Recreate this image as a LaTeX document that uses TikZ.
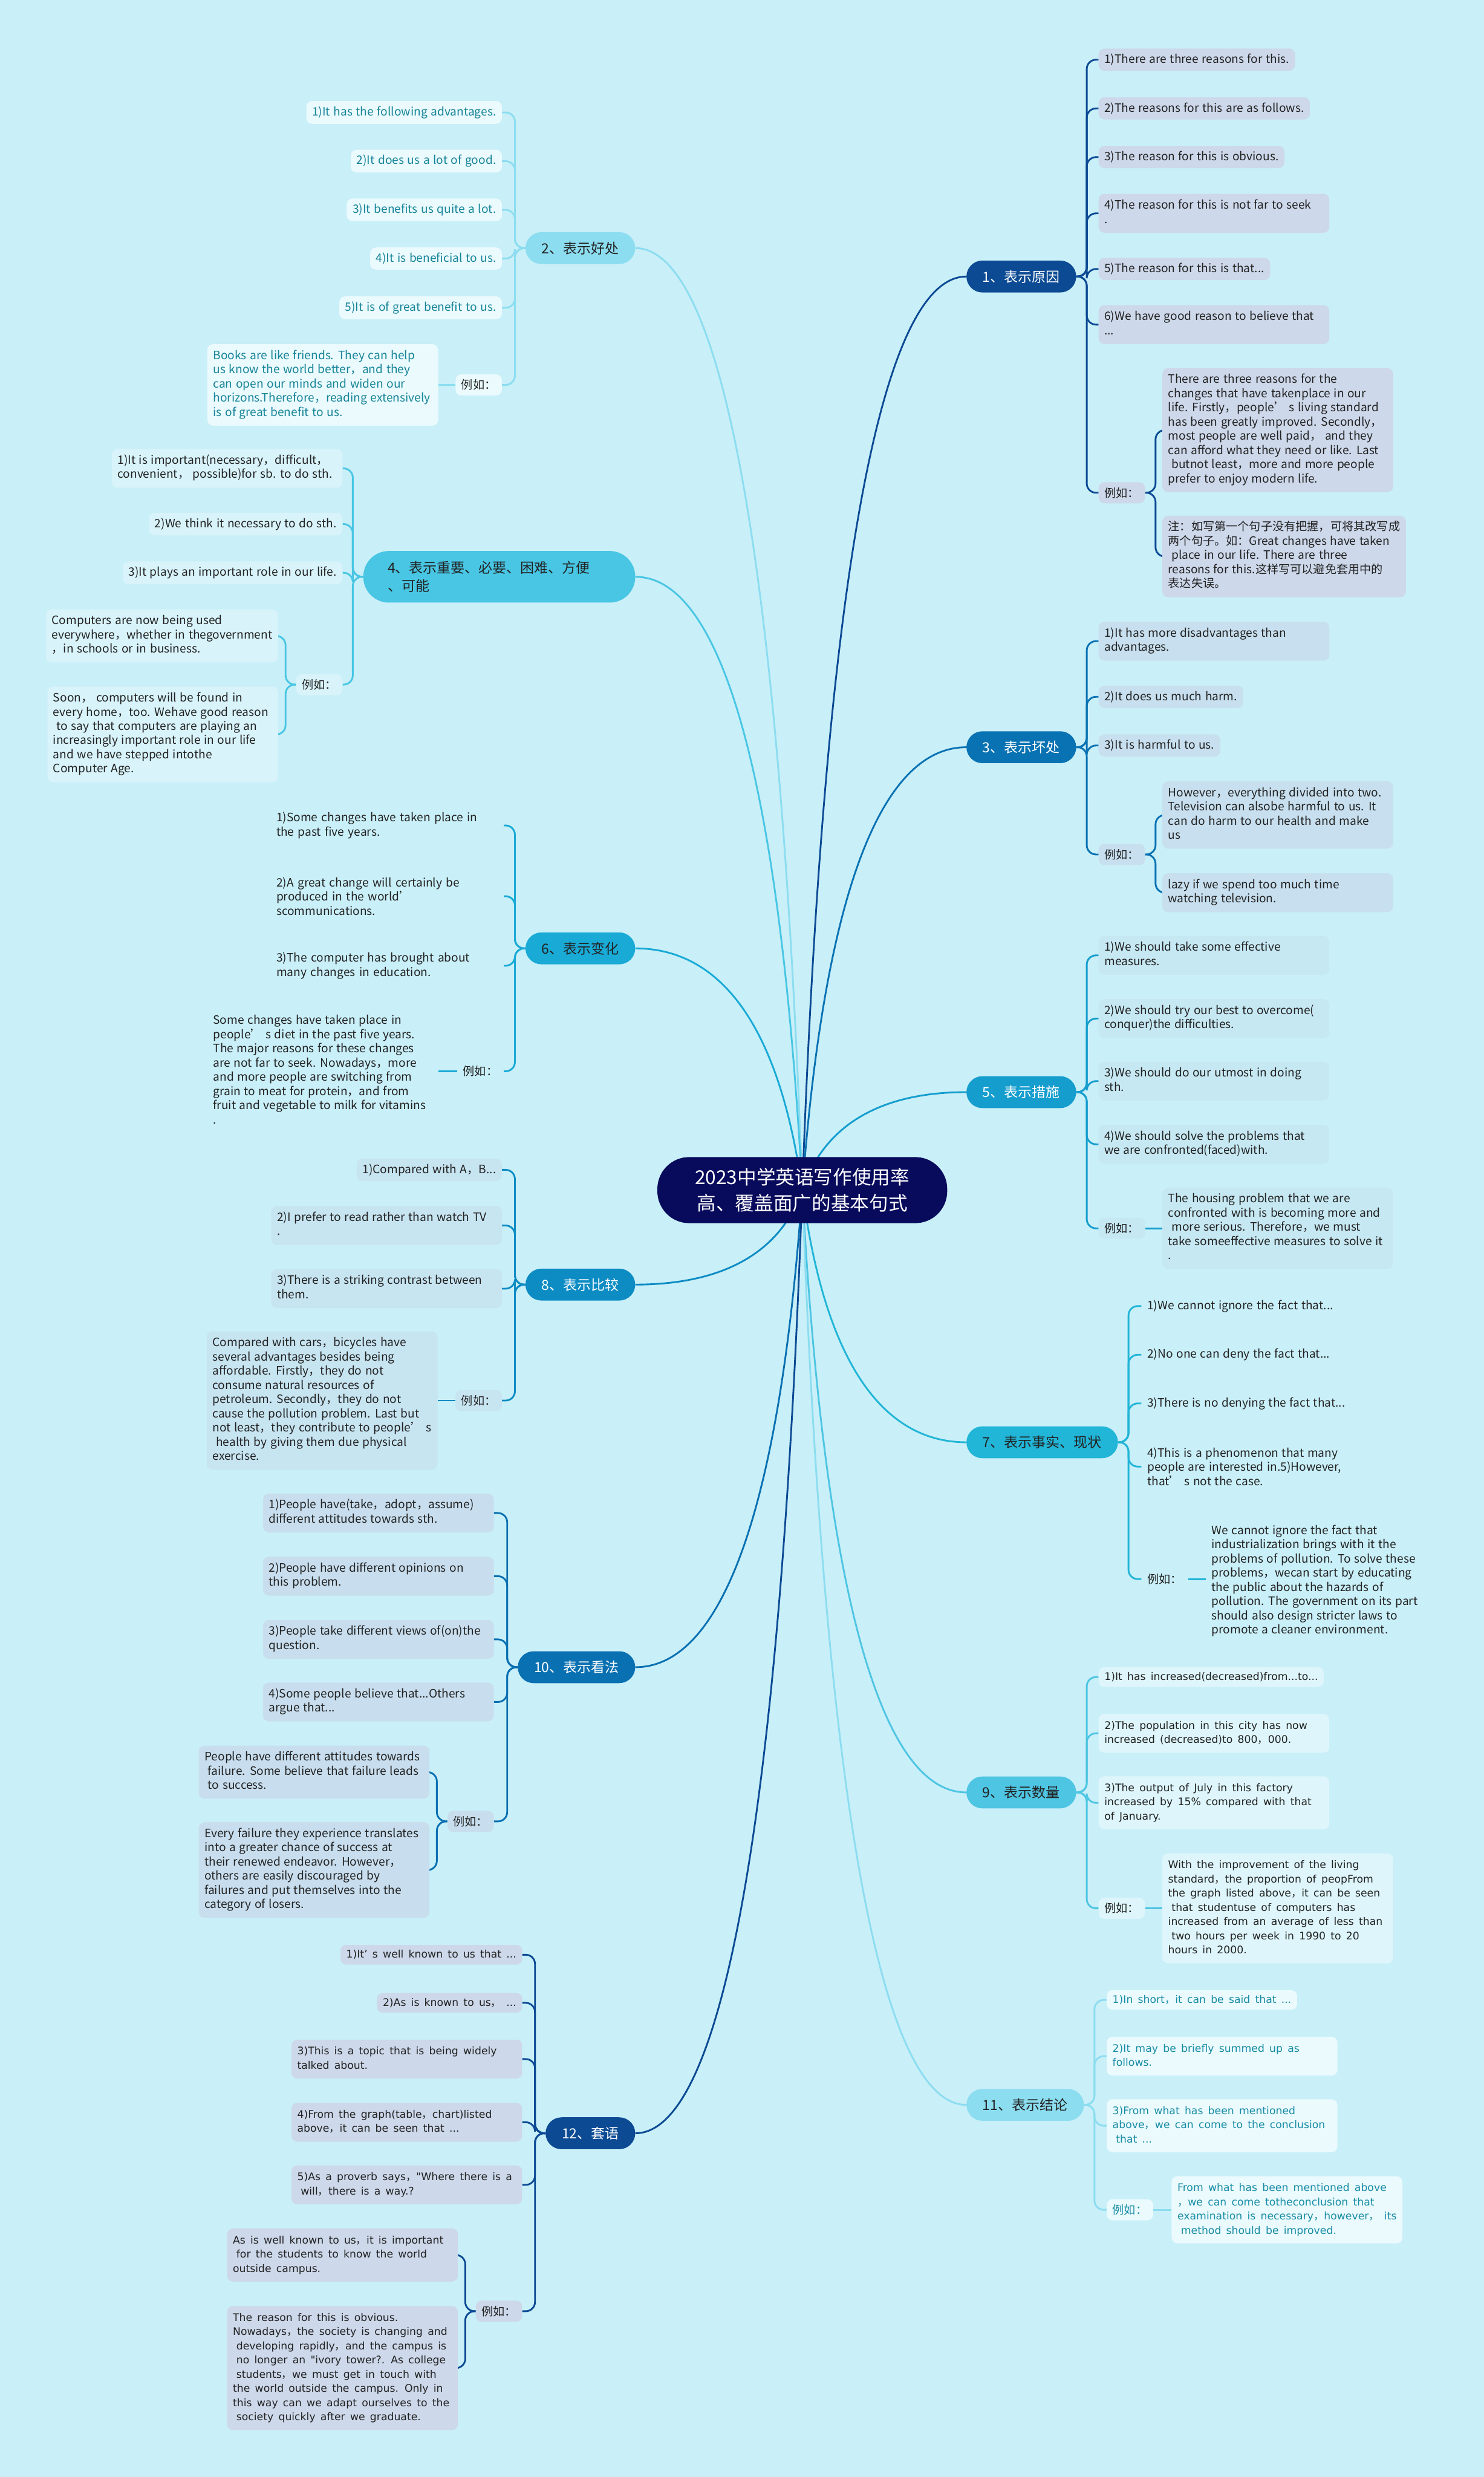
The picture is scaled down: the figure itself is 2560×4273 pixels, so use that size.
\documentclass[tikz,border=0pt]{standalone}
\usepackage{fontspec}
\setmainfont{Noto Sans CJK SC}[WordSpace=1.3]
\newfontfamily\dejavu{DejaVu Sans}[WordSpace=1.5]
\newfontfamily\cjkf{Noto Sans CJK SC}
\usetikzlibrary{calc}
\pgfdeclarelayer{back}
\pgfdeclarelayer{lines}
\pgfsetlayers{back,lines,main}
\definecolor{bgc}{RGB}{201,239,248}
\definecolor{txt}{RGB}{34,34,34}
\definecolor{rootc}{RGB}{8,10,92}
\definecolor{c1}{RGB}{12,74,148}\definecolor{f1}{RGB}{205,216,234}
\definecolor{c2}{RGB}{140,221,240}\definecolor{f2}{RGB}{234,250,253}\definecolor{t2}{RGB}{22,132,152}
\definecolor{c3}{RGB}{9,114,179}\definecolor{f3}{RGB}{199,223,238}
\definecolor{c4}{RGB}{72,198,228}\definecolor{f4}{RGB}{216,243,250}
\definecolor{c5}{RGB}{21,157,206}\definecolor{f5}{RGB}{198,232,243}
\definecolor{c6}{RGB}{25,170,214}
\definecolor{c7}{RGB}{33,181,215}
\definecolor{c8}{RGB}{13,140,196}\definecolor{f8}{RGB}{199,228,241}
\definecolor{c9}{RGB}{78,197,227}\definecolor{f9}{RGB}{222,246,251}
\definecolor{c10}{RGB}{9,112,178}\definecolor{f10}{RGB}{200,222,238}
\definecolor{c11}{RGB}{140,221,240}\definecolor{f11}{RGB}{234,250,253}\definecolor{t11}{RGB}{24,140,165}
\definecolor{c12}{RGB}{12,74,148}\definecolor{f12}{RGB}{205,216,234}
\newcommand\myind{\hspace*{6pt}}
\newcommand\cm{{\cjkf ，}}
\newsavebox\fwbox
\newcommand\fw[1]{\sbox\fwbox{\begin{tabular}{@{}l@{}}#1\end{tabular}}\ifdim\wd\fwbox<378pt\makebox[378pt][l]{\usebox\fwbox}\else\usebox\fwbox\fi}
\newcommand\myroot[2]{\draw[line width=3pt,#1] let \p1=(root.center), \p2=(#2) in (\p1) .. controls ({\x1+0.15*(\x2-\x1)},{\y1+0.75*(\y2-\y1)}) and ({\x1+0.55*(\x2-\x1)},{\y2}) .. (\p2);}
\newcommand\mylinkR[3]{\draw[link,#1] (#2) -- ++(18,0) |- (#3);}
\newcommand\mylinkL[3]{\draw[link,#1] (#2) -- ++(-18,0) |- (#3);}
\newcommand\mystraight[3]{\draw[link,#1] (#2) -- (#2 -| #3);}
\tikzset{
  base/.style={font=\fontsize{20pt}{24.5pt}\selectfont, align=left, inner xsep=10pt, inner ysep=9pt, rounded corners=10pt, text=txt},
  wd/.style={font=\dejavu\fontsize{18pt}{24.5pt}\selectfont},
  R/.style={base, anchor=west},
  L/.style={base, anchor=east},
  br/.style={font=\fontsize{24pt}{32pt}\selectfont, inner xsep=28pt, inner ysep=0pt, minimum height=55pt, rounded corners=27.5pt},
  link/.style={line width=3pt, rounded corners=16pt},
}
\begin{document}
\begin{tikzpicture}[x=1pt,y=-1pt]
\begin{pgfonlayer}{back}
\fill[bgc] (0,0) rectangle (2560,4273);
\end{pgfonlayer}
\useasboundingbox (0,0) rectangle (2560,4273);

% root
\node[fill=rootc, text=white, align=center, rounded corners=55pt, minimum width=500pt, minimum height=114pt, font=\fontsize{33pt}{44pt}\selectfont] (root) at (1384,2053) {2023中学英语写作使用率\\高、覆盖面广的基本句式};

% ---------- Branch 1
\node[br, fill=c1, text=white, anchor=west] (b1) at (1667,477) {1、表示原因};
\node[R, fill=f1] (b1a) at (1895,103) {1)There are three reasons for this.};
\node[R, fill=f1] (b1b) at (1895,187) {2)The reasons for this are as follows.};
\node[R, fill=f1] (b1c) at (1895,271) {3)The reason for this is obvious.};
\node[R, fill=f1] (b1d) at (1895,368) {\fw{4)The reason for this is not far to seek\\.}};
\node[R, fill=f1] (b1e) at (1895,464) {5)The reason for this is that...};
\node[R, fill=f1] (b1f) at (1895,560) {\fw{6)We have good reason to believe that\\...}};
\node[R, fill=f1] (b1g) at (1895,850) {例如：};
\node[R, fill=f1] (b1x) at (2005,742) {\fw{There are three reasons for the\\changes that have takenplace in our\\life. Firstly，people’ s living standard\\has been greatly improved. Secondly，\\most people are well paid， and they\\can afford what they need or like. Last\\\myind butnot least，more and more people\\prefer to enjoy modern life.}};
\node[R, fill=f1] (b1y) at (2005,960) {\fw{注：如写第一个句子没有把握，可将其改写成\\两个句子。如：Great changes have taken\\\myind place in our life. There are three\\reasons for this.这样写可以避免套用中的\\表达失误。}};

% ---------- Branch 3
\node[br, fill=c3, text=white, anchor=west] (b3) at (1667,1289) {3、表示坏处};
\node[R, fill=f3] (b3a) at (1895,1106) {\fw{1)It has more disadvantages than\\advantages.}};
\node[R, fill=f3] (b3b) at (1895,1202) {2)It does us much harm.};
\node[R, fill=f3] (b3c) at (1895,1286) {3)It is harmful to us.};
\node[R, fill=f3] (b3g) at (1895,1474) {例如：};
\node[R, fill=f3] (b3x) at (2005,1406) {\fw{However，everything divided into two.\\Television can alsobe harmful to us. It\\can do harm to our health and make\\us}};
\node[R, fill=f3] (b3y) at (2005,1540) {\fw{lazy if we spend too much time\\watching television.}};

% ---------- Branch 5
\node[br, fill=c5, text=white, anchor=west] (b5) at (1667,1884) {5、表示措施};
\node[R, fill=f5] (b5a) at (1895,1648) {\fw{1)We should take some effective\\measures.}};
\node[R, fill=f5] (b5b) at (1895,1757) {\fw{2)We should try our best to overcome(\\conquer)the difficulties.}};
\node[R, fill=f5] (b5c) at (1895,1865) {\fw{3)We should do our utmost in doing\\sth.}};
\node[R, fill=f5] (b5d) at (1895,1974) {\fw{4)We should solve the problems that\\we are confronted(faced)with.}};
\node[R, fill=f5] (b5g) at (1895,2119) {例如：};
\node[R, fill=f5] (b5x) at (2005,2119) {\fw{The housing problem that we are\\confronted with is becoming more and\\\myind more serious. Therefore，we must\\take someeffective measures to solve it\\.}};

% ---------- Branch 7
\node[br, fill=c7, text=txt, anchor=west] (b7) at (1667,2488) {7、表示事实、现状};
\node[R] (b7a) at (1969,2253) {1)We cannot ignore the fact that...};
\node[R] (b7b) at (1969,2337) {2)No one can deny the fact that...};
\node[R] (b7c) at (1969,2421) {3)There is no denying the fact that...};
\node[R] (b7d) at (1969,2530) {4)This is a phenomenon that many\\people are interested in.5)However,\\that’ s not the case.};
\node[R] (b7g) at (1969,2724) {例如：};
\node[R] (b7x) at (2080,2727) {We cannot ignore the fact that\\industrialization brings with it the\\problems of pollution. To solve these\\problems，wecan start by educating\\the public about the hazards of\\pollution. The government on its part\\should also design stricter laws to\\promote a cleaner environment.};

% ---------- Branch 9
\node[br, fill=c9, text=txt, anchor=west] (b9) at (1667,3092) {9、表示数量};
\node[R, wd, fill=f9] (b9a) at (1895,2893) {1)It has increased(decreased)from...to...};
\node[R, wd, fill=f9] (b9b) at (1895,2990) {\fw{2)The population in this city has now\\increased (decreased)to 800\cm 000.}};
\node[R, wd, fill=f9] (b9c) at (1895,3110) {\fw{3)The output of July in this factory\\increased by 15\% compared with that\\of January.}};
\node[R, fill=f9] (b9g) at (1895,3292) {例如：};
\node[R, wd, fill=f9] (b9x) at (2005,3292) {\fw{With the improvement of the living\\standard\cm the proportion of peopFrom\\the graph listed above\cm it can be seen\\\myind that studentuse of computers has\\increased from an average of less than\\\myind two hours per week in 1990 to 20\\hours in 2000.}};

% ---------- Branch 11
\node[br, fill=c11, text=txt, anchor=west] (b11) at (1667,3631) {11、表示结论};
\node[R, wd, fill=f11, text=t11] (b11a) at (1909,3450) {1)In short\cm it can be said that ...};
\node[R, wd, fill=f11, text=t11] (b11b) at (1909,3547) {\fw{2)It may be briefly summed up as\\follows.}};
\node[R, wd, fill=f11, text=t11] (b11c) at (1909,3667) {\fw{3)From what has been mentioned\\above\cm we can come to the conclusion\\\myind that ...}};
\node[R, fill=f11, text=t11] (b11g) at (1909,3812) {例如：};
\node[R, wd, fill=f11, text=t11] (b11x) at (2021,3812) {\fw{From what has been mentioned above\\\cm we can come totheconclusion that\\examination is necessary\cm however\cm{} its\\\myind method should be improved.}};

% ---------- Branch 2
\node[br, fill=c2, text=txt, anchor=east] (b2) at (1096,428) {2、表示好处};
\node[L, fill=f2, text=t2] (b2a) at (866,194) {1)It has the following advantages.};
\node[L, fill=f2, text=t2] (b2b) at (866,278) {2)It does us a lot of good.};
\node[L, fill=f2, text=t2] (b2c) at (866,362) {3)It benefits us quite a lot.};
\node[L, fill=f2, text=t2] (b2d) at (866,446) {4)It is beneficial to us.};
\node[L, fill=f2, text=t2] (b2e) at (866,531) {5)It is of great benefit to us.};
\node[L, fill=f2] (b2g) at (866,664) {例如：};
\node[L, fill=f2, text=t2] (b2x) at (756,664) {\fw{Books are like friends. They can help\\us know the world better，and they\\can open our minds and widen our\\horizons.Therefore，reading extensively\\is of great benefit to us.}};

% ---------- Branch 4
\node[br, fill=c4, text=txt, anchor=east, minimum height=89pt, rounded corners=44pt, inner xsep=42pt, text width=385pt, align=left] (b4) at (1096,995) {4、表示重要、必要、困难、方便\\、可能};
\node[L, fill=f4] (b4a) at (591,808) {\fw{1)It is important(necessary，difficult，\\convenient， possible)for sb. to do sth.}};
\node[L, fill=f4] (b4b) at (591,904) {2)We think it necessary to do sth.};
\node[L, fill=f4] (b4c) at (591,988) {3)It plays an important role in our life.};
\node[L, fill=f4] (b4g) at (591,1181) {例如：};
\node[L, fill=f4] (b4x) at (480,1097) {\fw{Computers are now being used\\everywhere，whether in thegovernment\\，in schools or in business.}};
\node[L, fill=f4] (b4y) at (480,1267) {\fw{Soon， computers will be found in\\every home，too. Wehave good reason\\\myind to say that computers are playing an\\increasingly important role in our life\\and we have stepped intothe\\Computer Age.}};

% ---------- Branch 6
\node[br, fill=c6, text=txt, anchor=east] (b6) at (1096,1636) {6、表示变化};
\node[L, text width=382pt] (b6a) at (869,1424) {1)Some changes have taken place in\\the past five years.};
\node[L, text width=382pt] (b6b) at (869,1546) {2)A great change will certainly be\\produced in the world’\\scommunications.};
\node[L, text width=382pt] (b6c) at (869,1666) {3)The computer has brought about\\many changes in education.};
\node[L] (b6g) at (869,1848) {例如：};
\node[L] (b6x) at (756,1848) {\fw{Some changes have taken place in\\people’ s diet in the past five years.\\The major reasons for these changes\\are not far to seek. Nowadays，more\\and more people are switching from\\grain to meat for protein，and from\\fruit and vegetable to milk for vitamins\\.}};

% ---------- Branch 8
\node[br, fill=c8, text=white, anchor=east] (b8) at (1096,2216) {8、表示比较};
\node[L, fill=f8] (b8a) at (866,2018) {1)Compared with A，B...};
\node[L, fill=f8] (b8b) at (866,2114) {\fw{2)I prefer to read rather than watch TV\\.}};
\node[L, fill=f8] (b8c) at (866,2223) {\fw{3)There is a striking contrast between\\them.}};
\node[L, fill=f8] (b8g) at (866,2416) {例如：};
\node[L, fill=f8] (b8x) at (755,2416) {\fw{Compared with cars，bicycles have\\several advantages besides being\\affordable. Firstly，they do not\\consume natural resources of\\petroleum. Secondly，they do not\\cause the pollution problem. Last but\\not least，they contribute to people’ s\\\myind health by giving them due physical\\exercise.}};

% ---------- Branch 10
\node[br, fill=c10, text=white, anchor=east] (b10) at (1096,2876) {10、表示看法};
\node[L, fill=f10] (b10a) at (852,2610) {\fw{1)People have(take，adopt，assume)\\different attitudes towards sth.}};
\node[L, fill=f10] (b10b) at (852,2719) {\fw{2)People have different opinions on\\this problem.}};
\node[L, fill=f10] (b10c) at (852,2828) {\fw{3)People take different views of(on)the\\question.}};
\node[L, fill=f10] (b10d) at (852,2936) {\fw{4)Some people believe that...Others\\argue that...}};
\node[L, fill=f10] (b10g) at (852,3142) {例如：};
\node[L, fill=f10] (b10x) at (741,3057) {\fw{People have different attitudes towards\\\myind failure. Some believe that failure leads\\\myind to success.}};
\node[L, fill=f10] (b10y) at (741,3226) {\fw{Every failure they experience translates\\into a greater chance of success at\\their renewed endeavor. However，\\others are easily discouraged by\\failures and put themselves into the\\category of losers.}};

% ---------- Branch 12
\node[br, fill=c12, text=white, anchor=east] (b12) at (1096,3680) {12、套语};
\node[L, wd, fill=f12] (b12a) at (901,3372) {1)It’ s well known to us that ...};
\node[L, wd, fill=f12] (b12b) at (901,3455) {2)As is known to us\cm{} ...};
\node[L, wd, fill=f12] (b12c) at (901,3552) {\fw{3)This is a topic that is being widely\\talked about.}};
\node[L, wd, fill=f12] (b12d) at (901,3661) {\fw{4)From the graph(table\cm chart)listed\\above\cm it can be seen that ...}};
\node[L, wd, fill=f12] (b12e) at (901,3769) {\fw{5)As a proverb says\cm"Where there is a\\\myind will\cm there is a way.?}};
\node[L, fill=f12] (b12g) at (901,3987) {例如：};
\node[L, wd, fill=f12] (b12x) at (790,3890) {\fw{As is well known to us\cm it is important\\\myind for the students to know the world\\outside campus.}};
\node[L, wd, fill=f12] (b12y) at (790,4085) {\fw{The reason for this is obvious.\\Nowadays\cm the society is changing and\\\myind developing rapidly\cm and the campus is\\\myind no longer an "ivory tower?. As college\\\myind students\cm we must get in touch with\\the world outside the campus. Only in\\this way can we adapt ourselves to the\\\myind society quickly after we graduate.}};

\begin{pgfonlayer}{lines}
\myroot{c1}{b1.west}
\myroot{c3}{b3.west}
\myroot{c5}{b5.west}
\myroot{c7}{b7.west}
\myroot{c9}{b9.west}
\myroot{c11}{b11.west}
\myroot{c2}{b2.east}
\myroot{c4}{b4.east}
\myroot{c6}{b6.east}
\myroot{c8}{b8.east}
\myroot{c10}{b10.east}
\myroot{c12}{b12.east}
% B1
\foreach \k in {a,b,c,d,e,f,g} {\mylinkR{c1}{b1.east}{b1\k.west}}
\mylinkR{c1}{b1g.east}{b1x.west}
\mylinkR{c1}{b1g.east}{b1y.west}
% B3
\foreach \k in {a,b,c,g} {\mylinkR{c3}{b3.east}{b3\k.west}}
\mylinkR{c3}{b3g.east}{b3x.west}
\mylinkR{c3}{b3g.east}{b3y.west}
% B5
\foreach \k in {a,b,c,d,g} {\mylinkR{c5}{b5.east}{b5\k.west}}
\mystraight{c5}{b5g.east}{b5x.west}
% B7
\foreach \k in {a,b,c,d,g} {\mylinkR{c7}{b7.east}{b7\k.west}}
\mystraight{c7}{b7g.east}{b7x.west}
% B9
\foreach \k in {a,b,c,g} {\mylinkR{c9}{b9.east}{b9\k.west}}
\mystraight{c9}{b9g.east}{b9x.west}
% B11
\foreach \k in {a,b,c,g} {\mylinkR{c11}{b11.east}{b11\k.west}}
\mystraight{c11}{b11g.east}{b11x.west}
% B2
\foreach \k in {a,b,c,d,e,g} {\mylinkL{c2}{b2.west}{b2\k.east}}
\mystraight{c2}{b2g.west}{b2x.east}
% B4
\foreach \k in {a,b,c,g} {\mylinkL{c4}{b4.west}{b4\k.east}}
\mylinkL{c4}{b4g.west}{b4x.east}
\mylinkL{c4}{b4g.west}{b4y.east}
% B6
\foreach \k in {a,b,c,g} {\mylinkL{c6}{b6.west}{b6\k.east}}
\mystraight{c6}{b6g.west}{b6x.east}
% B8
\foreach \k in {a,b,c,g} {\mylinkL{c8}{b8.west}{b8\k.east}}
\mystraight{c8}{b8g.west}{b8x.east}
% B10
\foreach \k in {a,b,c,d,g} {\mylinkL{c10}{b10.west}{b10\k.east}}
\mylinkL{c10}{b10g.west}{b10x.east}
\mylinkL{c10}{b10g.west}{b10y.east}
% B12
\foreach \k in {a,b,c,d,e,g} {\mylinkL{c12}{b12.west}{b12\k.east}}
\mylinkL{c12}{b12g.west}{b12x.east}
\mylinkL{c12}{b12g.west}{b12y.east}
\end{pgfonlayer}
\end{tikzpicture}
\end{document}
